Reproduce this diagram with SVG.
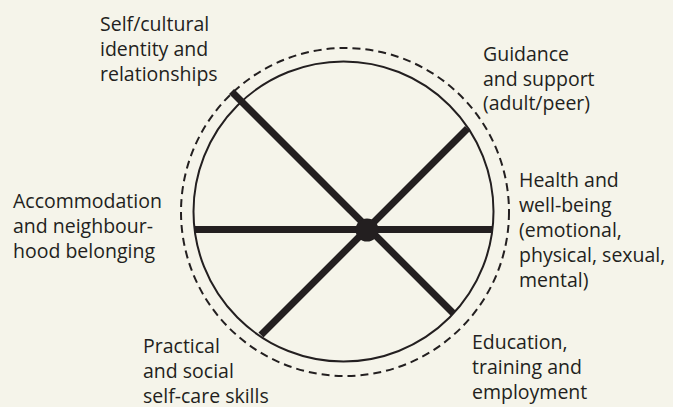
<svg xmlns="http://www.w3.org/2000/svg" width="673" height="407" viewBox="0 0 673 407">
<style>
.lbl{font-family:"Open Sans","Liberation Sans",sans-serif;font-size:19.5px;fill:#231f20}
.spoke{stroke:#231f20;stroke-width:7;stroke-linecap:butt;fill:none}
</style>
<rect width="673" height="407" fill="#f5f4ea"/>
<g id="wheel">
<circle cx="345" cy="212" r="164" fill="none" stroke="#231f20" stroke-width="2" stroke-dasharray="8 5"/>
<circle cx="343.5" cy="211.5" r="150" fill="none" stroke="#231f20" stroke-width="2"/>
</g>
<g id="connectors">
<line class="spoke" x1="231.5" y1="91.5" x2="453.5" y2="313.5"/>
<line class="spoke" x1="467.5" y1="128.5" x2="261" y2="335"/>
<line class="spoke" x1="194.5" y1="229.5" x2="492.5" y2="229.5"/>
<circle cx="367" cy="230" r="11.5" fill="#231f20"/>
</g>
<g id="self">
<text class="lbl" x="100" y="31">Self/cultural</text>
<text class="lbl" x="100" y="56">identity and</text>
<text class="lbl" x="100" y="81">relationships</text>
</g>
<g id="guidance">
<text class="lbl" x="483" y="61">Guidance</text>
<text class="lbl" x="483" y="86">and support</text>
<text class="lbl" x="483" y="110">(adult/peer)</text>
</g>
<g id="health">
<text class="lbl" x="519" y="187">Health and</text>
<text class="lbl" x="519" y="212">well-being</text>
<text class="lbl" x="519" y="237">(emotional,</text>
<text class="lbl" x="519" y="262">physical, sexual,</text>
<text class="lbl" x="519" y="287">mental)</text>
</g>
<g id="education">
<text class="lbl" x="472" y="349">Education,</text>
<text class="lbl" x="472" y="374">training and</text>
<text class="lbl" x="472" y="399">employment</text>
</g>
<g id="practical">
<text class="lbl" x="143" y="353">Practical</text>
<text class="lbl" x="143" y="378">and social</text>
<text class="lbl" x="143" y="403">self-care skills</text>
</g>
<g id="accommodation">
<text class="lbl" x="13" y="208">Accommodation</text>
<text class="lbl" x="13" y="233">and neighbour-</text>
<text class="lbl" x="13" y="258">hood belonging</text>
</g>
</svg>
